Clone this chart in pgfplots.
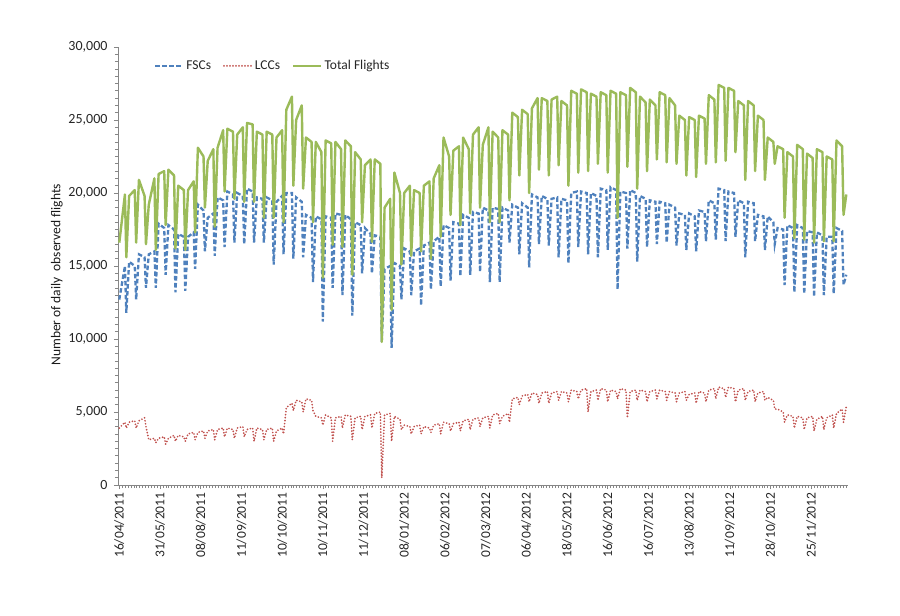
\documentclass[border=0pt]{standalone}
\usepackage{pgfplots}
\pgfplotsset{compat=1.18}
\usepackage{pgfplotstable}
\usepackage{fontspec}
\setmainfont{Carlito}
\definecolor{fscblue}{RGB}{79,129,189}
\definecolor{lccred}{RGB}{192,80,77}
\definecolor{totgreen}{RGB}{155,187,89}
\definecolor{axgray}{RGB}{134,134,134}
\pgfplotstableread{
day fsc lcc tot
0 12700 3900 16600
4 15000 4300 19900
5 11800 3900 15600
7 15300 4300 19800
11 15000 4400 20200
12 12700 3900 16600
14 15800 4400 20900
18 15600 4600 19800
19 13500 4000 16500
21 15800 3100 19200
25 16000 3200 21000
26 13500 2900 16100
28 17900 3200 21300
32 17600 3300 21500
33 14400 2800 17800
35 17800 3200 21600
39 17500 3400 21200
40 13200 3000 16200
42 17200 3400 20500
46 17000 3300 20200
47 13300 3000 16100
49 17000 3500 20200
53 17300 3600 20800
54 14800 3100 17300
56 19200 3600 23100
60 18800 3700 22500
61 16000 3200 19000
63 18300 3700 22200
67 18600 3800 23000
68 15700 3100 17700
70 19700 3800 23100
74 19500 3900 24300
75 16300 3300 20100
77 20100 3900 24400
81 19900 3800 24200
82 16600 3200 19600
84 20000 3900 24000
88 19800 4000 24500
89 16500 3300 19400
91 20300 3800 24800
95 20100 3900 24700
96 16600 3000 19400
98 19700 3900 24200
102 19600 3800 24000
103 16600 3100 18300
105 19700 3800 24200
109 19500 3900 24000
110 15100 3000 18300
112 19400 3700 23800
116 19800 3900 24300
117 15800 3500 18000
119 20000 5300 25700
123 20000 5600 26600
124 15500 5100 20500
126 19700 5800 25000
130 19400 5700 26000
131 15600 5000 20300
133 18500 5900 23800
137 18300 5800 23500
138 13900 5100 18000
140 18400 4700 23500
144 18200 4600 22800
145 11200 4100 14200
147 18400 4800 23600
151 18300 4600 23400
152 13500 3000 16450
154 18600 4600 23500
158 18500 4700 23000
159 13000 3900 16300
161 18500 4800 23600
165 18200 4700 23200
166 11600 3100 14400
168 18000 4600 22800
172 17800 4700 22300
173 14500 3800 18000
175 17600 4700 21900
179 17200 4800 22300
180 14500 3900 16650
182 17100 4900 22300
186 17000 5000 22000
187 9800 500 9800
189 14800 4800 19000
193 15000 4900 19600
194 9400 3000 12000
196 15200 4700 21400
200 15000 4500 20000
201 12700 3800 15100
203 16200 4100 20000
207 16000 4000 20500
208 13000 3500 15700
210 16000 4000 20200
214 16200 4100 20000
215 12300 3500 16000
217 16400 4000 20500
221 16600 3900 20800
222 13400 3600 15500
224 16700 4100 21000
228 17000 4200 21900
229 13600 3500 17000
231 17800 4300 23800
235 17600 4200 22500
236 14000 3700 18500
238 18000 4200 22900
242 17900 4300 23200
243 14300 3700 17800
245 18500 4400 23800
249 18300 4500 23000
250 14400 3800 18600
252 18700 4500 24000
256 18600 4600 24500
257 14600 4000 19000
259 19000 4600 23300
263 18800 4700 24500
264 13900 3900 18000
266 19000 4800 24200
270 18900 4900 23800
271 13900 4200 18000
273 19000 4700 24300
277 18800 4900 24000
278 16600 4300 19500
280 19200 5900 25500
284 19000 6000 25200
285 15800 5500 21200
287 19300 6100 25700
291 19000 6200 25400
292 14900 5700 20000
294 19900 6300 25800
298 19700 6200 26500
299 16500 5600 21600
301 19800 6300 26500
305 19600 6400 26300
306 16400 5600 21200
308 19600 6300 26400
312 19700 6400 26600
313 15600 5800 21900
315 19600 6400 26300
319 19500 6300 26000
320 15200 5700 20500
322 20000 6500 27000
326 20100 6400 26800
327 16300 5900 21400
329 20100 6500 27100
333 20000 6600 26900
334 15800 5000 21500
336 20000 6400 26800
340 19800 6500 26600
341 15600 5800 22000
343 20300 6600 26900
347 20200 6500 26700
348 16100 5700 21400
350 20400 6500 27000
354 20200 6400 26800
355 13400 5900 18300
357 20100 6600 26900
361 20000 6500 26700
362 16200 4600 21800
364 20200 6400 27200
368 20000 6500 26900
369 15300 5800 20300
371 19800 6500 26600
375 19600 6400 26200
376 16300 5700 21500
378 19500 6400 26400
382 19400 6500 26000
383 16500 5900 22300
385 19400 6500 26900
389 19300 6400 26700
390 16600 5800 22100
392 19200 6400 26500
396 19000 6300 26000
397 16400 5700 22000
399 18600 6300 25300
403 18500 6400 25000
404 16100 5800 21200
406 18600 6200 25200
410 18400 6300 25000
411 16000 5600 21100
413 18800 6400 25300
417 18700 6300 25100
418 16700 5700 22000
420 19500 6500 26700
424 19300 6600 26400
425 16800 5900 22100
427 20300 6700 27400
431 20200 6600 27200
432 16700 6000 22200
434 20100 6700 27200
438 20000 6600 27000
439 17000 5700 22800
441 19500 6500 26300
445 19300 6600 26000
446 15600 5800 20900
448 19400 6400 26300
452 19300 6500 26000
453 16700 5700 21500
455 18500 6300 25300
459 18400 6400 25000
460 16100 5800 20900
462 18400 6000 23800
466 18000 5800 23500
467 16500 5200 22000
469 17600 5200 23200
473 17500 5000 23000
474 13700 4300 18300
476 17800 4800 22800
480 17600 4700 22500
481 13200 3900 16900
483 17800 4700 23300
487 17600 4600 23000
488 13100 3800 16800
490 17400 4600 22700
494 17300 4700 22400
495 12900 3700 16600
497 17300 4500 23000
501 17100 4700 22800
502 13000 3800 16700
504 17000 4600 22500
508 17000 4800 22300
509 13100 3900 16700
511 17600 4900 23600
515 17400 5200 23200
516 13700 4300 18500
518 14400 5400 19900
}\flights
\begin{document}
\begin{tikzpicture}
\path[use as bounding box] (0,0) rectangle (900pt,616pt);
\begin{axis}[
  at={(118pt,131pt)}, anchor=south west,
  scale only axis, width=730pt, height=438pt,
  xmin=-0.93, xmax=519.2, ymin=0, ymax=30000,
  axis lines=left,
  axis line style={draw=axgray, line width=0.8pt, -},
  every tick/.style={draw=axgray, line width=0.6pt},
  tick align=outside,
  major tick length=4pt, minor tick length=3pt,
  ytick={0,5000,...,30000},
  minor ytick={500,1000,...,29500},
  xtick={0,29,...,493},
  minor xtick={0,2.0714,...,519},
  xticklabels={16/04/2011,31/05/2011,08/08/2011,11/09/2011,10/10/2011,10/11/2011,11/12/2011,08/01/2012,06/02/2012,07/03/2012,06/04/2012,18/05/2012,16/06/2012,16/07/2012,13/08/2012,11/09/2012,28/10/2012,25/11/2012},
  x tick label style={rotate=90, anchor=east, font=\fontsize{13.5}{15}\selectfont, text=black!85},
  y tick label style={font=\fontsize{14}{16}\selectfont, text=black!85, xshift=-3pt, /pgf/number format/.cd, 1000 sep={,}, assume math mode=true},
  scaled y ticks=false,
  ylabel={Number of daily\ \ observed flights},
  every axis y label/.style={at={(axis description cs:-0.0836,0.48)}, rotate=90, anchor=center, font=\fontsize{13.5}{15}\selectfont, text=black!90},
  legend columns=3,
  legend style={at={(0.045,0.957)}, anchor=west, draw=none, fill=none, font=\fontsize{13.5}{15}\selectfont, text=black!85,
    /tikz/every even column/.append style={column sep=10pt}},
  legend image code/.code={\draw[#1] (0pt,0pt) -- (28pt,0pt);},
]
\addplot[fscblue, line width=2.3pt, dash pattern=on 4.5pt off 2.5pt] table[x=day, y=fsc] {\flights};
\addlegendentry{FSCs}
\addplot[lccred, line width=1.9pt, line cap=round, dash pattern=on 0pt off 3pt] table[x=day, y=lcc] {\flights};
\addlegendentry{LCCs}
\addplot[totgreen, line width=2.4pt, line join=round] table[x=day, y=tot] {\flights};
\addlegendentry{Total Flights}
\end{axis}
\end{tikzpicture}
\end{document}
